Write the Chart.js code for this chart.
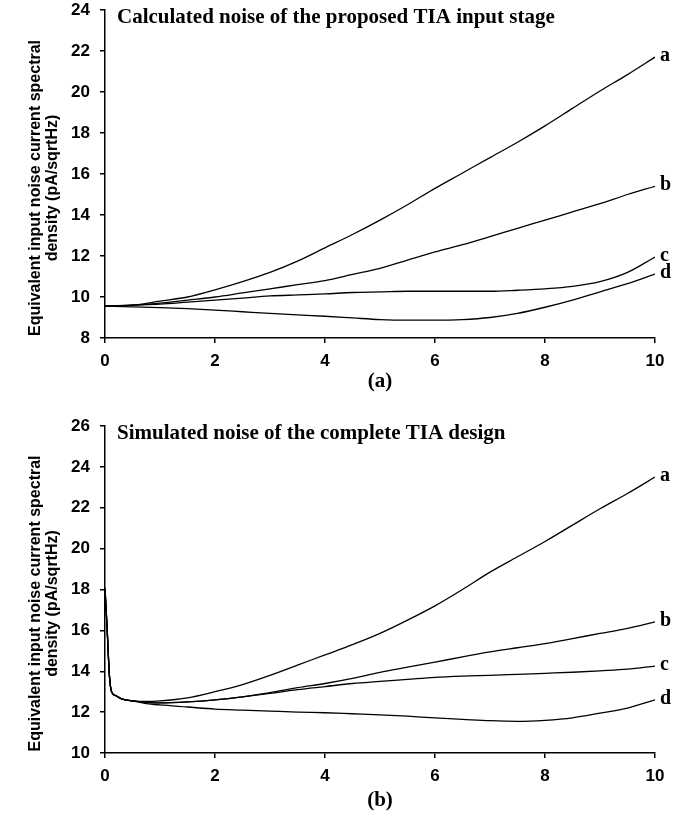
<!DOCTYPE html>
<html>
<head>
<meta charset="utf-8">
<script src="https://cdn.jsdelivr.net/npm/chart.js@4.4.1/dist/chart.umd.min.js"></script>
<style>
html, body { margin: 0; padding: 0; background: #fff; }
canvas { display: block; }
</style>
</head>
<body>
<canvas id="chartTop" width="694" height="400"></canvas>
<canvas id="chartBottom" width="694" height="423"></canvas>
<script>
// (a) calculated noise, x from 0 to 10
var xTop = [0, 0.5, 1, 1.5, 2, 2.5, 3, 3.5, 4, 4.5, 5, 5.5, 6, 6.5, 7, 7.5, 8, 8.5, 9, 9.5, 10];
var topA = [9.55, 9.6, 9.8, 10.0, 10.35, 10.75, 11.2, 11.75, 12.4, 13.05, 13.75, 14.5, 15.3, 16.05, 16.8, 17.55, 18.35, 19.2, 20.05, 20.85, 21.7];
var topB = [9.55, 9.6, 9.7, 9.85, 10.0, 10.2, 10.4, 10.6, 10.8, 11.1, 11.4, 11.8, 12.2, 12.55, 12.95, 13.35, 13.75, 14.15, 14.55, 15.0, 15.4];
var topC = [9.55, 9.6, 9.65, 9.75, 9.85, 9.95, 10.05, 10.1, 10.15, 10.22, 10.25, 10.28, 10.28, 10.28, 10.28, 10.33, 10.4, 10.52, 10.75, 11.2, 11.95];
var topD = [9.55, 9.52, 9.48, 9.43, 9.36, 9.28, 9.2, 9.13, 9.06, 8.98, 8.9, 8.87, 8.87, 8.9, 9.0, 9.2, 9.5, 9.85, 10.25, 10.65, 11.12];

// (b) simulated noise, denser near 0 for the spike
var xBottom = [0, 0.04, 0.08, 0.12, 0.2, 0.3, 0.5, 0.75, 1, 1.5, 2, 2.5, 3, 3.5, 4, 4.5, 5, 5.5, 6, 6.5, 7, 7.5, 8, 8.5, 9, 9.5, 10];
var botA = [18.05, 16.0, 13.8, 13.0, 12.8, 12.65, 12.55, 12.52, 12.55, 12.7, 13.0, 13.35, 13.8, 14.3, 14.8, 15.3, 15.85, 16.5, 17.2, 18.0, 18.85, 19.6, 20.35, 21.15, 21.95, 22.7, 23.5];
var botB = [18.05, 16.0, 13.8, 13.0, 12.8, 12.65, 12.55, 12.48, 12.45, 12.5, 12.6, 12.75, 12.95, 13.2, 13.4, 13.65, 13.95, 14.2, 14.45, 14.7, 14.95, 15.15, 15.35, 15.6, 15.85, 16.1, 16.42];
var botC = [18.05, 16.0, 13.8, 13.0, 12.8, 12.65, 12.55, 12.48, 12.45, 12.5, 12.6, 12.75, 12.92, 13.1, 13.25, 13.4, 13.5, 13.6, 13.7, 13.76, 13.8, 13.85, 13.9, 13.95, 14.02, 14.1, 14.25];
var botD = [18.05, 16.0, 13.8, 13.0, 12.8, 12.65, 12.55, 12.42, 12.35, 12.25, 12.15, 12.1, 12.05, 12.0, 11.97, 11.92, 11.87, 11.8, 11.72, 11.65, 11.58, 11.55, 11.6, 11.72, 11.95, 12.2, 12.6];

var seriesNames = ['a', 'b', 'c', 'd'];
var yTitleLines = ['Equivalent input noise current spectral', 'density (pA/sqrtHz)'];

var SANS = '"Liberation Sans", Arial, sans-serif';
var SERIF = '"Liberation Serif", "Times New Roman", serif';

function toPoints(xs, ys) {
    return xs.map(function (x, i) { return { x: x, y: ys[i] }; });
}

// chart title, y title and a/b/c/d labels
var textPlugin = {
    id: 'textPlugin',
    afterDraw: function (chart) {
        var ctx = chart.ctx;
        var area = chart.chartArea;
        var o = chart.options.plugins.textPlugin;
        ctx.save();
        ctx.fillStyle = '#000';

        ctx.font = 'bold 21px ' + SERIF;
        ctx.textAlign = 'left';
        ctx.textBaseline = 'alphabetic';
        ctx.fillText(o.title, area.left + 12, area.top + 13);

        ctx.font = 'bold 20px ' + SERIF;
        ctx.textBaseline = 'middle';
        chart.data.datasets.forEach(function (ds, i) {
            var pts = chart.getDatasetMeta(i).data;
            var last = pts[pts.length - 1];
            ctx.fillText(ds.label, last.x + 5, last.y - 1);
        });

        ctx.font = 'bold 16px ' + SANS;
        ctx.textAlign = 'center';
        ctx.translate(36, (area.top + area.bottom) / 2 + 14);
        ctx.rotate(-Math.PI / 2);
        ctx.fillText(yTitleLines[0], 0, 0);
        ctx.fillText(yTitleLines[1], 0, 17);
        ctx.restore();
    }
};

function buildChart(id, o) {
    var ctx = document.getElementById(id).getContext('2d');
    var tickFont = { family: SANS, size: 17, weight: 'bold' };
    return new Chart(ctx, {
        type: 'line',
        data: {
            datasets: o.series.map(function (vals, i) {
                return {
                    label: seriesNames[i],
                    data: toPoints(o.xs, vals),
                    borderColor: '#000',
                    borderWidth: 1.3,
                    pointRadius: 0,
                    cubicInterpolationMode: 'monotone',
                    fill: false
                };
            })
        },
        options: {
            responsive: false,
            animation: false,
            layout: { padding: { top: o.padTop, right: 39, left: 0, bottom: 0 } },
            plugins: {
                legend: { display: false },
                tooltip: { enabled: false },
                textPlugin: { title: o.title }
            },
            scales: {
                x: {
                    type: 'linear',
                    min: 0,
                    max: 10,
                    ticks: { stepSize: 2, color: '#000', font: tickFont, padding: 8 },
                    grid: { drawOnChartArea: false, drawTicks: true, tickLength: 5, color: '#000', lineWidth: 1.5 },
                    border: { color: '#000', width: 1.5 },
                    title: {
                        display: true,
                        text: o.xTitle,
                        color: '#000',
                        font: { family: SERIF, size: 21, weight: 'bold' },
                        padding: { top: 0, bottom: o.xTitlePad }
                    },
                    afterFit: function (s) { s.height = o.xHeight; }
                },
                y: {
                    type: 'linear',
                    min: o.yMin,
                    max: o.yMax,
                    ticks: { stepSize: 2, color: '#000', font: tickFont, padding: 10 },
                    grid: { drawOnChartArea: false, drawTicks: true, tickLength: 5, color: '#000', lineWidth: 1.5 },
                    border: { color: '#000', width: 1.5 },
                    afterFit: function (s) {
                        s.width = 105;
                        s.paddingTop = 0;
                        s.paddingBottom = 0;
                    }
                }
            }
        },
        plugins: [textPlugin]
    });
}

buildChart('chartTop', {
    xs: xTop,
    series: [topA, topB, topC, topD],
    title: 'Calculated noise of the proposed TIA input stage',
    xTitle: '(a)',
    yMin: 8, yMax: 24,
    padTop: 10, xHeight: 62, xTitlePad: 6
});

buildChart('chartBottom', {
    xs: xBottom,
    series: [botA, botB, botC, botD],
    title: 'Simulated noise of the complete TIA design',
    xTitle: '(b)',
    yMin: 10, yMax: 26,
    padTop: 26, xHeight: 70, xTitlePad: 10
});
</script>
</body>
</html>
